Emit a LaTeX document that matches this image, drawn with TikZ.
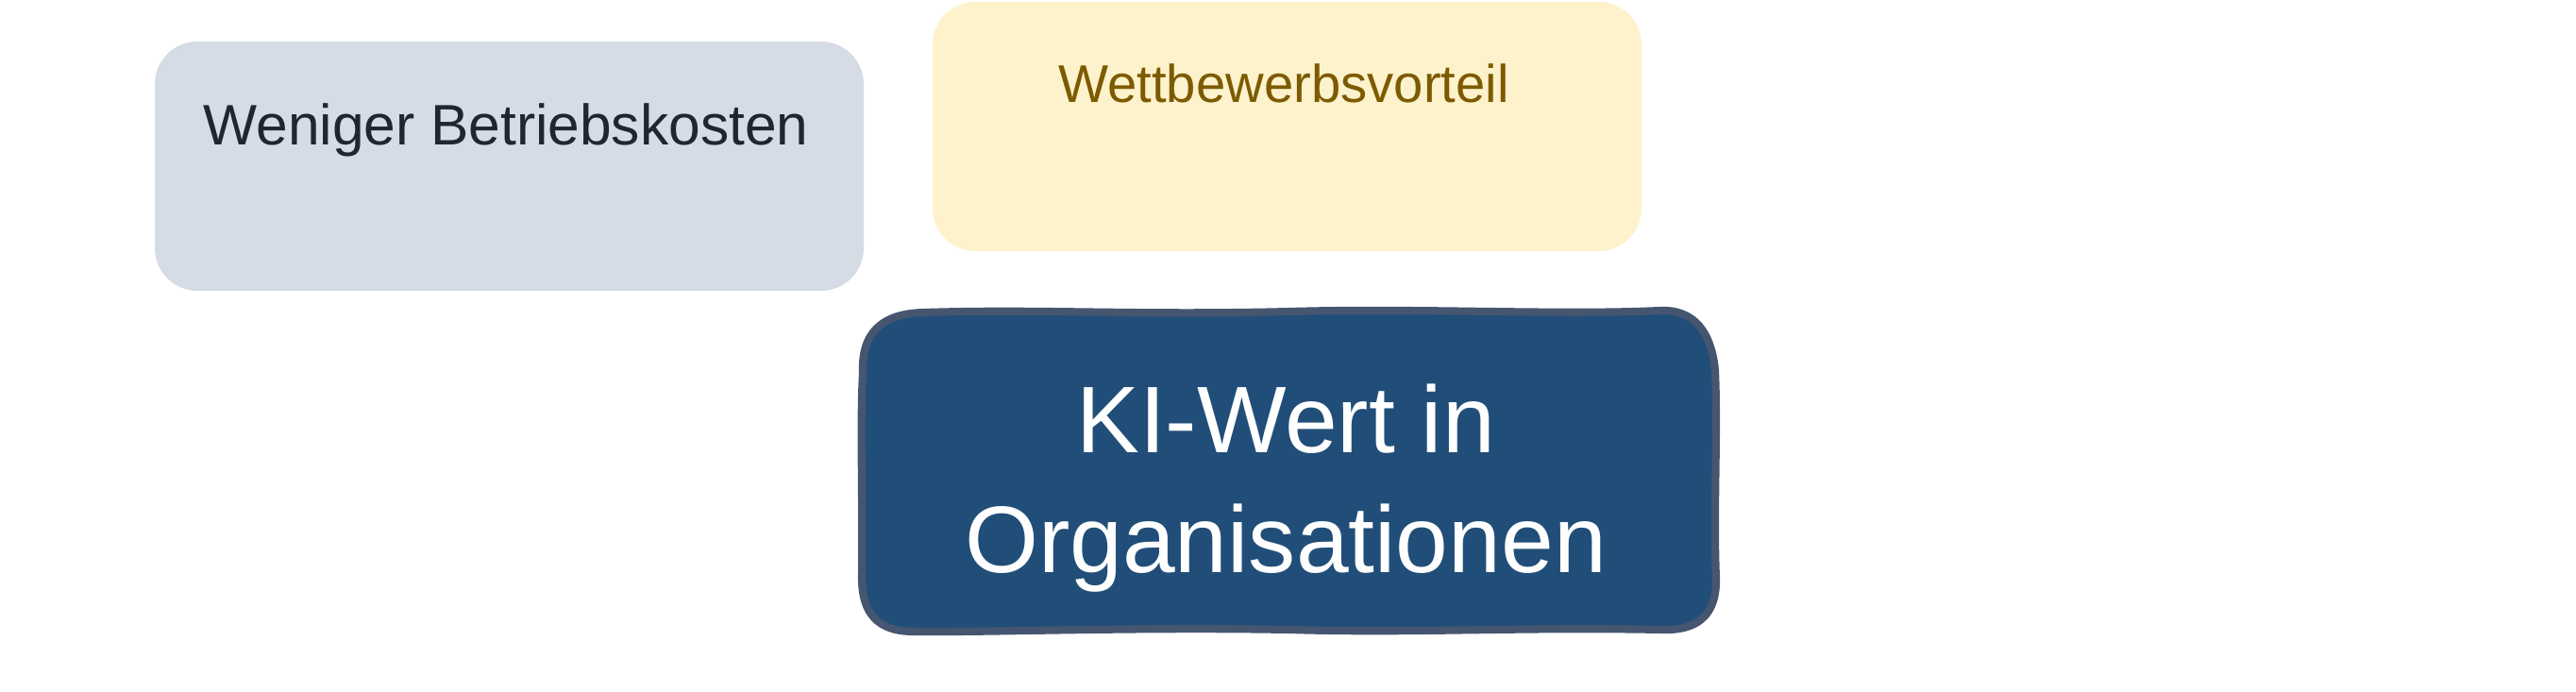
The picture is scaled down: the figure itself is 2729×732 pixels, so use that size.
\documentclass[tikz,border=0pt]{standalone}
\usepackage{fontspec}
\setmainfont{Liberation Sans}
\definecolor{grayfill}{RGB}{214,220,229}
\definecolor{graytext}{RGB}{31,38,51}
\definecolor{yellowfill}{RGB}{254,242,204}
\definecolor{yellowtext}{RGB}{124,91,0}
\definecolor{bluefill}{RGB}{33,78,120}
\definecolor{blueedge}{RGB}{70,86,112}
\tikzset{
  graylabel/.style={text=graytext, font=\fontsize{17.2}{20}\selectfont, inner sep=0pt},
  yellowlabel/.style={text=yellowtext, font=\fontsize{16}{19}\selectfont, inner sep=0pt},
  bluelabel/.style={text=white, align=center, font=\fontsize{28.5}{36}\selectfont, inner sep=0pt},
  handedge/.style={draw=blueedge, fill=bluefill, line width=2.3pt, line join=round}
}
\begin{document}
\begin{tikzpicture}[x=0.01cm, y=-0.01cm]
\useasboundingbox (0,0) rectangle (2729,732);
% gray box
\fill[grayfill, rounded corners=0.45cm] (164,44) rectangle (915,308);
\node[graylabel, anchor=base] (betrieb) at (536,153) {Weniger Betriebskosten};
% yellow box
\fill[yellowfill, rounded corners=0.45cm] (988,2) rectangle (1739,266);
\node[yellowlabel, anchor=base] (wettbewerb) at (1360,108) {Wettbewerbsvorteil};
% blue hand-drawn box
\path[handedge] (914,395) .. controls (912,352) and (935,332) .. (978,331)
  .. controls (1100,327) and (1200,334) .. (1366,330)
  .. controls (1500,326) and (1650,334) .. (1758,329)
  .. controls (1795,327) and (1813,352) .. (1817,392)
  .. controls (1820,460) and (1815,540) .. (1818,612)
  .. controls (1819,650) and (1800,668) .. (1762,667)
  .. controls (1600,664) and (1500,671) .. (1366,667)
  .. controls (1200,664) and (1050,670) .. (968,669)
  .. controls (930,669) and (913,650) .. (913,612)
  .. controls (914,520) and (911,450) .. (914,395) -- cycle;
\node[bluelabel, anchor=center] (kiwert) at (1362,517) {KI-Wert in\\Organisationen};
\end{tikzpicture}
\end{document}
